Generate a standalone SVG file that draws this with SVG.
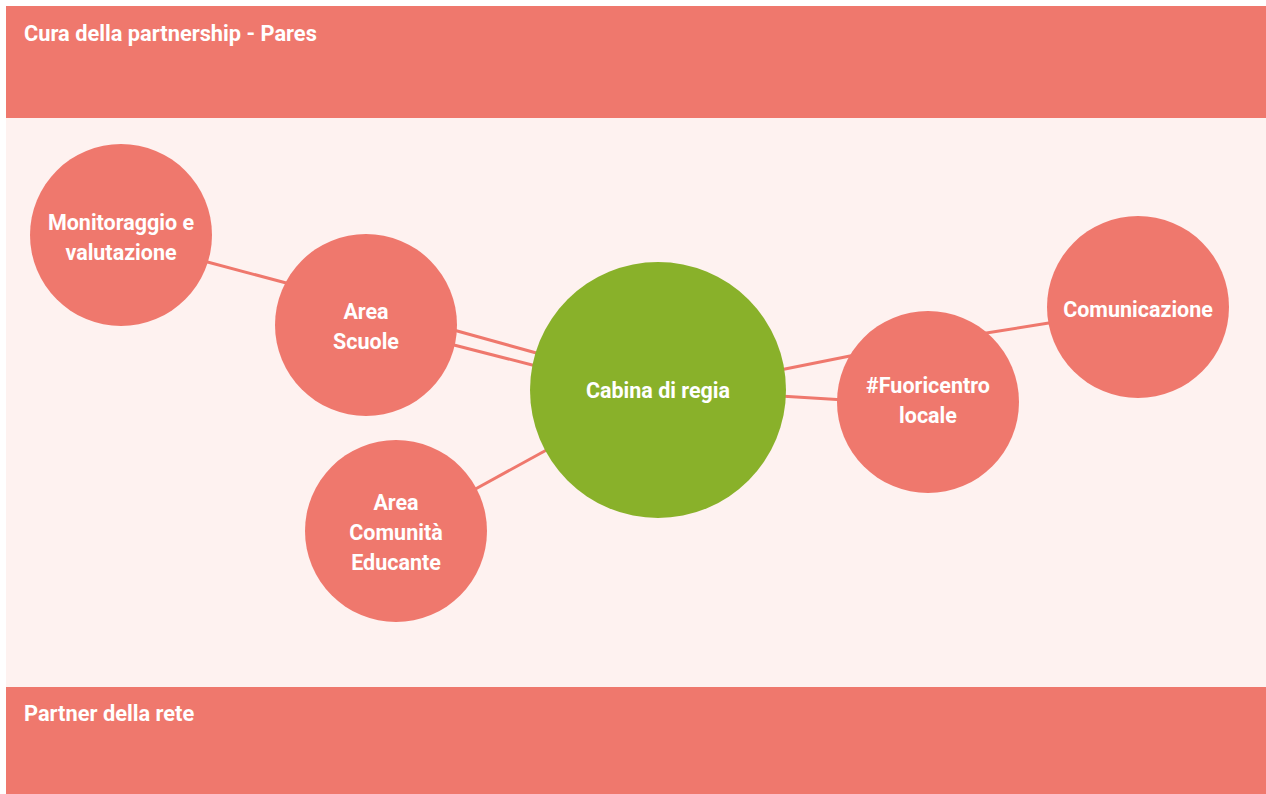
<svg xmlns="http://www.w3.org/2000/svg" width="1266" height="794" viewBox="0 0 1266 794">
<style>
.band{fill:#EF786D}
.node{fill:#EF786D}
.hub{fill:#89B12A}
.lbl{font-family:Roboto,"Liberation Sans",sans-serif;font-weight:bold;font-size:21.5px;fill:#FFFFFF;text-anchor:middle}
.ttl{font-family:Roboto,"Liberation Sans",sans-serif;font-weight:bold;font-size:21.8px;fill:#FFFFFF}
.edge{stroke:#EF786D;stroke-width:3;fill:none}
</style>
<rect x="0" y="0" width="1266" height="794" fill="#FFFFFF"/>
<rect x="6" y="118" width="1260" height="569" fill="#FEF2F0"/>
<g id="band-top">
<rect class="band" x="6" y="6" width="1260" height="112"/>
<text class="ttl" x="24" y="41">Cura della partnership - Pares</text>
</g>
<g id="band-bottom">
<rect class="band" x="6" y="687" width="1260" height="107"/>
<text class="ttl" x="24" y="721">Partner della rete</text>
</g>
<g id="connectors">
<line class="edge" x1="200" y1="260" x2="290" y2="284"/>
<line class="edge" x1="450" y1="329" x2="540" y2="354"/>
<line class="edge" x1="450" y1="344" x2="540" y2="367"/>
<line class="edge" x1="470" y1="492" x2="552" y2="447"/>
<line class="edge" x1="780" y1="370" x2="855" y2="355"/>
<line class="edge" x1="780" y1="396" x2="845" y2="400"/>
<line class="edge" x1="980" y1="334" x2="1055" y2="322"/>
</g>
<g id="monitoraggio">
<circle class="node" cx="121" cy="235" r="91"/>
<text class="lbl" x="121" y="230">Monitoraggio e</text>
<text class="lbl" x="121" y="260">valutazione</text>
</g>
<g id="area-scuole">
<circle class="node" cx="366" cy="325" r="91"/>
<text class="lbl" x="366" y="319">Area</text>
<text class="lbl" x="366" y="349">Scuole</text>
</g>
<g id="cabina">
<circle class="hub" cx="658" cy="390" r="128"/>
<text class="lbl" x="658" y="398">Cabina di regia</text>
</g>
<g id="area-comunita">
<circle class="node" cx="396" cy="531" r="91"/>
<text class="lbl" x="396" y="510">Area</text>
<text class="lbl" x="396" y="540">Comunità</text>
<text class="lbl" x="396" y="570">Educante</text>
</g>
<g id="fuoricentro">
<circle class="node" cx="928" cy="402" r="91"/>
<text class="lbl" x="928" y="393">#Fuoricentro</text>
<text class="lbl" x="928" y="423">locale</text>
</g>
<g id="comunicazione">
<circle class="node" cx="1138" cy="307" r="91"/>
<text class="lbl" x="1138" y="317">Comunicazione</text>
</g>
</svg>
